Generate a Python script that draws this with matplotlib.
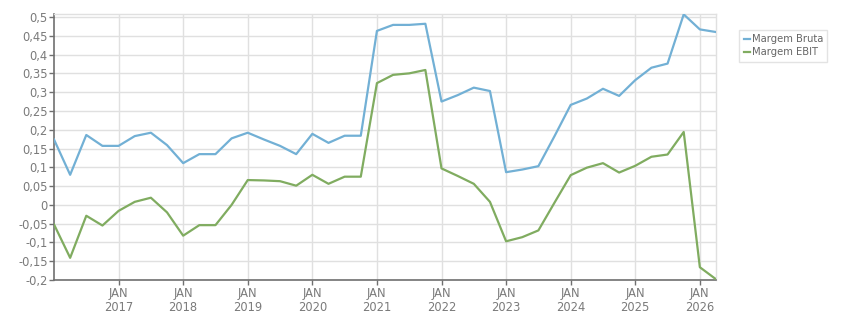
import matplotlib
matplotlib.use("Agg")
import matplotlib.pyplot as plt
from matplotlib.ticker import FuncFormatter

# Quarterly points starting JAN 2016
start_year = 2016
margem_bruta = [0.174, 0.080, 0.186, 0.157, 0.157, 0.183, 0.192, 0.159, 0.111, 0.135,
                0.135, 0.177, 0.192, 0.174, 0.157, 0.135, 0.189, 0.165, 0.184, 0.184,
                0.463, 0.479, 0.479, 0.482, 0.275, 0.292, 0.312, 0.303, 0.087, 0.094,
                0.103, 0.183, 0.266, 0.283, 0.309, 0.290, 0.332, 0.365, 0.376, 0.507,
                0.467, 0.460]
margem_ebit = [-0.052, -0.141, -0.029, -0.055, -0.016, 0.008, 0.019, -0.020, -0.082, -0.054,
               -0.054, 0.000, 0.066, 0.065, 0.063, 0.051, 0.080, 0.056, 0.075, 0.075,
               0.324, 0.346, 0.350, 0.359, 0.097, 0.077, 0.056, 0.008, -0.097, -0.086,
               -0.068, 0.006, 0.079, 0.099, 0.111, 0.086, 0.104, 0.128, 0.134, 0.194,
               -0.166, -0.198]
series_names = ["Margem Bruta", "Margem EBIT"]
year_ticks = [2017, 2018, 2019, 2020, 2021, 2022, 2023, 2024, 2025, 2026]
y_ticks = [-0.2, -0.15, -0.1, -0.05, 0, 0.05, 0.1, 0.15, 0.2, 0.25, 0.3, 0.35, 0.4, 0.45, 0.5]

x = [start_year + 0.25 * i for i in range(len(margem_bruta))]

fig = plt.figure(figsize=(8.51, 3.13), dpi=100)
ax = fig.add_axes([54 / 851, 1 - 280 / 313, (716 - 54) / 851, (280 - 14) / 313])

ax.plot(x, margem_bruta, color="#72b0d5", lw=1.6, label=series_names[0], zorder=3)
ax.plot(x, margem_ebit, color="#80ac60", lw=1.6, label=series_names[1], zorder=3)

ax.set_xlim(x[0], x[-1])
ax.set_ylim(-0.2, 0.508)
ax.set_xticks(year_ticks)
ax.set_xticklabels([f"JAN\n{y}" for y in year_ticks], linespacing=1.15)
ax.set_yticks(y_ticks)


def fmt(v, pos):
    s = f"{v:.2f}".rstrip("0").rstrip(".")
    if s in ("-0", ""):
        s = "0"
    return s.replace(".", ",")


ax.yaxis.set_major_formatter(FuncFormatter(fmt))
ax.grid(True, color="#e0e0e0", lw=1.0, zorder=0)
ax.set_axisbelow(True)

for side in ("top", "right"):
    ax.spines[side].set_color("#e0e0e0")
    ax.spines[side].set_linewidth(1.0)
for side in ("left", "bottom"):
    ax.spines[side].set_color("#707070")
    ax.spines[side].set_linewidth(1.2)

ax.tick_params(axis="both", colors="#707070", labelcolor="#7a7a7a", labelsize=8.3,
               length=3.5, width=1)
ax.tick_params(axis="y", pad=1)
ax.tick_params(axis="x", pad=1.5)

leg = fig.legend(loc="upper left", bbox_to_anchor=(739 / 851, 1 - 30 / 313),
                 fontsize=7.2, frameon=True, fancybox=False, handlelength=0.6,
                 handletextpad=0.2, borderpad=0.45, labelspacing=0.25,
                 borderaxespad=0, labelcolor="#666666")
leg.get_frame().set_edgecolor("#dddddd")
leg.get_frame().set_linewidth(1.0)

fig.savefig("out.png", dpi=100)
